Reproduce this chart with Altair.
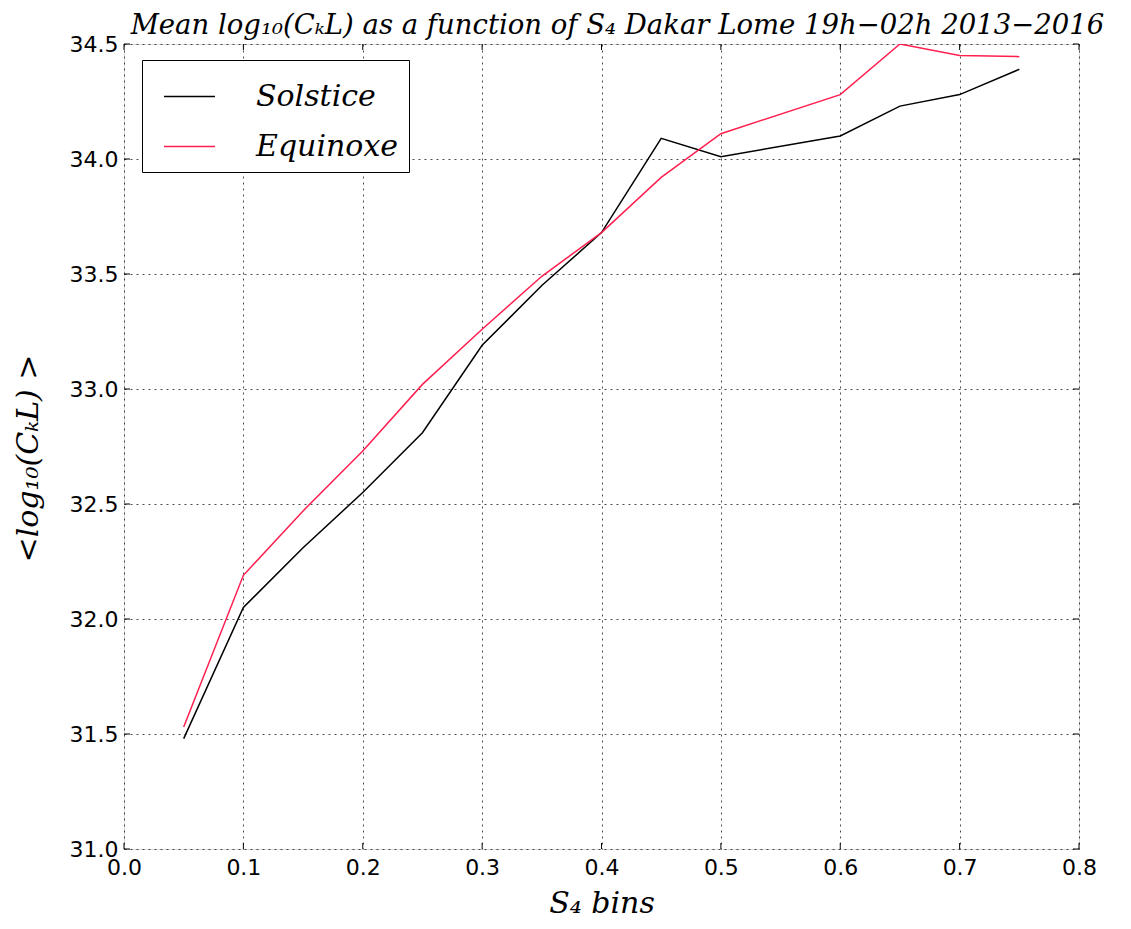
import altair as alt
import pandas as pd

s4_bins = [0.05, 0.10, 0.15, 0.20, 0.25, 0.30, 0.35, 0.40, 0.45, 0.50, 0.60, 0.65, 0.70, 0.75]
solstice = [31.48, 32.05, 32.31, 32.55, 32.81, 33.19, 33.45, 33.68, 34.09, 34.01, 34.10, 34.23, 34.28, 34.39]
equinoxe = [31.53, 32.19, 32.47, 32.73, 33.02, 33.26, 33.49, 33.68, 33.92, 34.11, 34.28, 34.50, 34.45, 34.445]
series_names = ["Solstice", "Equinoxe"]
series_colors = ["#000000", "#ff1f4f"]
x_ticks = [0.0, 0.1, 0.2, 0.3, 0.4, 0.5, 0.6, 0.7, 0.8]
y_ticks = [31.0, 31.5, 32.0, 32.5, 33.0, 33.5, 34.0, 34.5]

rows = []
for name, vals in zip(series_names, [solstice, equinoxe]):
    for x, y in zip(s4_bins, vals):
        rows.append({"x": x, "y": y, "series": name})
df = pd.DataFrame(rows)
xt = pd.DataFrame({"x": x_ticks})
yt = pd.DataFrame({"y": y_ticks})

serif = "DejaVu Serif"
sans = "DejaVu Sans"
W, H = 955, 805
TK = 6

xscale = alt.Scale(domain=[0, 0.8], nice=False, zero=False)
yscale = alt.Scale(domain=[31.0, 34.5], nice=False, zero=False)

lines = alt.Chart(df).mark_line(strokeWidth=1.5, clip=True).encode(
    x=alt.X("x:Q", scale=xscale,
            axis=alt.Axis(values=x_ticks, format=".1f", title="S₄ bins",
                          titleFont=serif, titleFontStyle="italic", titleFontWeight="normal",
                          titleFontSize=30, titlePadding=10, titleColor="black",
                          labelFont=sans, labelFontSize=22, labelColor="black", labelPadding=8,
                          labelFlush=False,
                          tickSize=0, domain=False,
                          grid=True, gridColor="black", gridDash=[2, 4], gridOpacity=0.7, gridWidth=1)),
    y=alt.Y("y:Q", scale=yscale,
            axis=alt.Axis(values=y_ticks, format=".1f", title="<log₁₀(CₖL) >",
                          titleFont=serif, titleFontStyle="italic", titleFontWeight="normal",
                          titleFontSize=30, titlePadding=26, titleColor="black", titleY=414,
                          labelFont=sans, labelFontSize=22, labelColor="black", labelPadding=6,
                          tickSize=0, domain=False,
                          grid=True, gridColor="black", gridDash=[2, 4], gridOpacity=0.7, gridWidth=1)),
    color=alt.Color("series:N", sort=series_names,
                    scale=alt.Scale(domain=series_names, range=series_colors),
                    legend=alt.Legend(title=None, orient="none", legendX=18, legendY=16,
                                      symbolType="stroke", symbolSize=2600, symbolStrokeWidth=1.5,
                                      labelFont=serif, labelFontStyle="italic", labelFontSize=30,
                                      labelColor="black", labelOffset=40, rowPadding=8,
                                      padding=10, strokeColor="black", fillColor="white",
                                      cornerRadius=0, symbolOffset=11)),
)

tick_bottom = alt.Chart(xt).mark_rule(color="black", strokeWidth=1).encode(
    x=alt.X("x:Q", scale=xscale), y=alt.value(H), y2=alt.value(H - TK))
tick_top = alt.Chart(xt).mark_rule(color="black", strokeWidth=1).encode(
    x=alt.X("x:Q", scale=xscale), y=alt.value(0), y2=alt.value(TK))
tick_left = alt.Chart(yt).mark_rule(color="black", strokeWidth=1).encode(
    y=alt.Y("y:Q", scale=yscale), x=alt.value(0), x2=alt.value(TK))
tick_right = alt.Chart(yt).mark_rule(color="black", strokeWidth=1).encode(
    y=alt.Y("y:Q", scale=yscale), x=alt.value(W), x2=alt.value(W - TK))

chart = alt.layer(lines, tick_bottom, tick_top, tick_left, tick_right).properties(
    width=W,
    height=H,
    title=alt.Title("Mean log₁₀(CₖL) as a function of S₄ Dakar Lome 19h−02h 2013−2016",
                    font=serif, fontStyle="italic", fontWeight="normal", fontSize=27.5,
                    color="black", anchor="middle", offset=0, dx=16, dy=6),
    autosize=alt.AutoSizeParams(type="none"),
    padding={"left": 116, "top": 36, "right": 44, "bottom": 72},
).configure_view(stroke="black", strokeWidth=1.5).configure(background="white")

chart.save("out.html", embed_options={"renderer": "svg", "actions": False})
